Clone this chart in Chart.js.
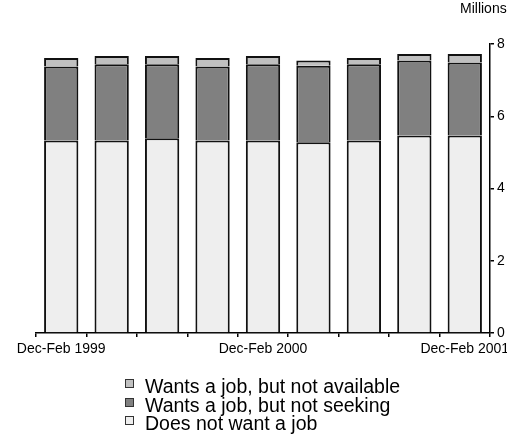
<!DOCTYPE html>
<html>
<head>
<meta charset="utf-8">
<script src="https://cdn.jsdelivr.net/npm/chart.js@4"></script>
<style>
  body { margin: 0; background: #fff; font-family: "Liberation Sans", Arial, sans-serif; }
  #wrap { position: relative; width: 507px; height: 442px; overflow: hidden; }
  #units { position: absolute; left: 460px; top: 0px; font-size: 14px; color: #000; white-space: nowrap; }
  #legend { position: absolute; left: 125px; top: 377px; font-size: 19.5px; line-height: 18.5px; color: #000; }
  #legend div { white-space: nowrap; }
  #legend span { display: inline-block; width: 7px; height: 7px; border: 1.5px solid #333; margin-right: 11px; vertical-align: 5px; }
</style>
</head>
<body>
<div id="wrap">
  <canvas id="chart" width="523" height="442"></canvas>
  <div id="units">Millions</div>
</div>
<div id="legend"></div>
<script>
// Quartale
const quarters = ['Dec-Feb 1999', 'Mar-May 1999', 'Jun-Aug 1999', 'Sep-Nov 1999',
                  'Dec-Feb 2000', 'Mar-May 2000', 'Jun-Aug 2000', 'Sep-Nov 2000', 'Dec-Feb 2001'];

// Werte in Millionen
const doesNotWant   = [5.33, 5.33, 5.39, 5.33, 5.33, 5.28, 5.33, 5.47, 5.47];
const notSeeking    = [2.05, 2.11, 2.05, 2.05, 2.11, 2.12, 2.11, 2.07, 2.02];
const notAvailable  = [0.23, 0.23, 0.23, 0.23, 0.23, 0.14, 0.17, 0.18, 0.23];

const yTicks = [0, 2, 4, 6, 8];

const font = { family: '"Liberation Sans", Arial, sans-serif', size: 14 };

const datasets = [
    { label: 'Does not want a job', data: doesNotWant, backgroundColor: '#eeeeee' },
    { label: 'Wants a job, but not seeking', data: notSeeking, backgroundColor: '#808080' },
    { label: 'Wants a job, but not available', data: notAvailable, backgroundColor: '#c0c0c0' }
].map(d => Object.assign(d, {
    borderColor: '#111',
    borderWidth: 2,
    barPercentage: 0.68,
    categoryPercentage: 1.0
}));

const chart = new Chart(document.getElementById('chart'), {
    type: 'bar',
    data: { labels: quarters, datasets: datasets },
    options: {
        responsive: false,
        animation: false,
        layout: { padding: { left: 36, top: 44, right: 0, bottom: 77 } },
        plugins: {
            legend: { display: false },
            tooltip: { enabled: false }
        },
        scales: {
            x: {
                stacked: true,
                grid: { display: true, drawOnChartArea: false, drawTicks: true, tickLength: 4, color: '#000', lineWidth: 1.5 },
                border: { display: true, color: '#000', width: 1.5 },
                ticks: {
                    autoSkip: false,
                    maxRotation: 0,
                    padding: 4,
                    color: '#000',
                    font: font,
                    callback: function (v) {
                        const l = this.getLabelForValue(v);
                        return l.startsWith('Dec') ? l : '';
                    }
                },
                afterFit: s => { s.height = 32; }
            },
            y: {
                stacked: true,
                position: 'right',
                min: 0,
                max: 8,
                afterBuildTicks: s => { s.ticks = yTicks.map(v => ({ value: v })); },
                grid: { display: true, drawOnChartArea: false, drawTicks: true, tickLength: 4, color: '#000', lineWidth: 1.5 },
                border: { display: true, color: '#000', width: 1.5 },
                ticks: { padding: 3, color: '#000', font: font },
                afterFit: s => { s.width = 33; }
            }
        }
    }
});

// Legende (vertikal, umgekehrte Reihenfolge)
const legend = document.getElementById('legend');
datasets.slice().reverse().forEach(d => {
    const row = document.createElement('div');
    const box = document.createElement('span');
    box.style.background = d.backgroundColor;
    row.appendChild(box);
    row.appendChild(document.createTextNode(d.label));
    legend.appendChild(row);
});
</script>
</body>
</html>
